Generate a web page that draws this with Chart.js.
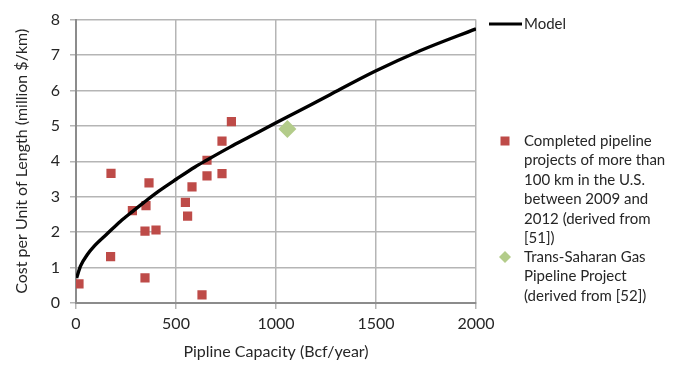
<!DOCTYPE html>
<html>
<head>
<meta charset="utf-8">
<script src="https://cdn.jsdelivr.net/npm/chart.js@4.4.0/dist/chart.umd.min.js"></script>
<style>
  html, body { margin: 0; padding: 0; background: #fff; }
  #chartContainer { position: relative; width: 683px; height: 365px; }
</style>
</head>
<body>
<div id="chartContainer"><canvas id="myChart" width="683" height="365"></canvas></div>
<script>
// model curve, cost vs capacity
const modelCapacity = [3, 23, 57, 90, 157, 223, 282, 340, 412, 503, 595, 653, 770, 870, 1000, 1170, 1270, 1495, 1720, 2000];
const modelCost = [0.71, 1.05, 1.37, 1.60, 1.96, 2.31, 2.58, 2.84, 3.15, 3.50, 3.84, 4.03, 4.40, 4.70, 5.09, 5.58, 5.88, 6.54, 7.12, 7.74];

// completed US projects
const usCapacity = [15, 173, 175, 282, 345, 345, 350, 365, 400, 547, 558, 580, 630, 655, 655, 730, 730, 777];
const usCost = [0.54, 1.31, 3.66, 2.61, 0.71, 2.03, 2.75, 3.39, 2.06, 2.84, 2.45, 3.28, 0.23, 4.03, 3.59, 3.65, 4.57, 5.12];

// Trans-Saharan project
const saharaCapacity = [1057];
const saharaCost = [4.91];

const xTicks = [0, 500, 1000, 1500, 2000];
const yTicks = [0, 1, 2, 3, 4, 5, 6, 7, 8];

const seriesNames = [
  'Model',
  'Completed pipeline projects of more than 100 km in the U.S. between 2009 and 2012 (derived from [51])',
  'Trans-Saharan Gas Pipeline Project (derived from [52])'
];
// legend text broken into lines the way it is shown
const legendLines = [
  ['Model'],
  ['Completed pipeline', 'projects of more than', '100 km in the U.S.', 'between 2009 and', '2012 (derived from', '[51])'],
  ['Trans-Saharan Gas', 'Pipeline Project', '(derived from [52])']
];

const FONT = 'Lato, "Open Sans", sans-serif';
const TEXT = '#262626';
const RED = '#BE4B48';
const GREEN = '#B3CC8A';

function pts(xs, ys) {
  return xs.map((x, i) => ({ x: x, y: ys[i] }));
}

// legend drawn at the right side of the plot
const sideLegend = {
  id: 'sideLegend',
  afterDraw(chart) {
    const ctx = chart.ctx;
    const lh = 19.5;
    ctx.save();
    ctx.font = '15px ' + FONT;
    ctx.fillStyle = TEXT;
    ctx.textBaseline = 'middle';
    ctx.textAlign = 'left';

    // Model
    ctx.strokeStyle = '#000';
    ctx.lineWidth = 3;
    ctx.beginPath();
    ctx.moveTo(489, 24);
    ctx.lineTo(522, 24);
    ctx.stroke();
    ctx.fillText(legendLines[0][0], 524, 24);

    // US projects
    ctx.fillStyle = RED;
    ctx.fillRect(500.5, 136.5, 9, 9);
    ctx.fillStyle = TEXT;
    legendLines[1].forEach((t, i) => ctx.fillText(t, 524, 141 + i * lh));

    // Trans-Saharan
    ctx.fillStyle = GREEN;
    ctx.beginPath();
    ctx.moveTo(505, 251);
    ctx.lineTo(511, 257);
    ctx.lineTo(505, 263);
    ctx.lineTo(499, 257);
    ctx.closePath();
    ctx.fill();
    ctx.fillStyle = TEXT;
    legendLines[2].forEach((t, i) => ctx.fillText(t, 524, 257 + i * lh));
    ctx.restore();
  }
};

const ctx = document.getElementById('myChart').getContext('2d');
const pipeChart = new Chart(ctx, {
  type: 'scatter',
  data: {
    datasets: [
      {
        label: seriesNames[0],
        data: pts(modelCapacity, modelCost),
        showLine: true,
        borderColor: '#000',
        borderWidth: 3.4,
        pointRadius: 0,
        cubicInterpolationMode: 'monotone',
        order: 1
      },
      {
        label: seriesNames[1],
        data: pts(usCapacity, usCost),
        pointStyle: 'rect',
        pointRadius: 6.5,
        backgroundColor: RED,
        borderColor: RED,
        borderWidth: 0,
        order: 2
      },
      {
        label: seriesNames[2],
        data: pts(saharaCapacity, saharaCost),
        pointStyle: 'rectRot',
        pointRadius: 9,
        backgroundColor: GREEN,
        borderColor: GREEN,
        borderWidth: 0,
        order: 0
      }
    ]
  },
  options: {
    responsive: false,
    animation: false,
    layout: { padding: { left: 0, right: 207, top: 13, bottom: 0 } },
    plugins: {
      legend: { display: false },
      tooltip: { enabled: false }
    },
    scales: {
      x: {
        type: 'linear',
        min: 0,
        max: 2000,
        afterBuildTicks: (s) => { s.ticks = xTicks.map(v => ({ value: v })); },
        afterFit: (s) => { s.height = 62; },
        ticks: { color: TEXT, font: { family: FONT, size: 16 }, padding: 5, callback: (v) => String(v) },
        grid: { color: '#b5b5b5', lineWidth: 1.5, tickLength: 6 },
        border: { color: '#8c8c8c', width: 2 },
        title: {
          display: true,
          text: 'Pipline Capacity (Bcf/year)',
          color: TEXT,
          font: { family: FONT, size: 16 },
          padding: { top: 0, bottom: 4 }
        }
      },
      y: {
        type: 'linear',
        min: 0,
        max: 8,
        afterBuildTicks: (s) => { s.ticks = yTicks.map(v => ({ value: v })); },
        afterFit: (s) => { s.width = 76; },
        ticks: { color: TEXT, font: { family: FONT, size: 16 }, padding: 10, callback: (v) => String(v) },
        grid: { color: '#b5b5b5', lineWidth: 1.5, tickLength: 6 },
        border: { color: '#8c8c8c', width: 2 },
        title: {
          display: true,
          text: 'Cost per Unit of Length (million $/km)',
          color: TEXT,
          font: { family: FONT, size: 16 },
          padding: { top: 12, bottom: 0 }
        }
      }
    }
  },
  plugins: [sideLegend]
});
</script>
</body>
</html>
